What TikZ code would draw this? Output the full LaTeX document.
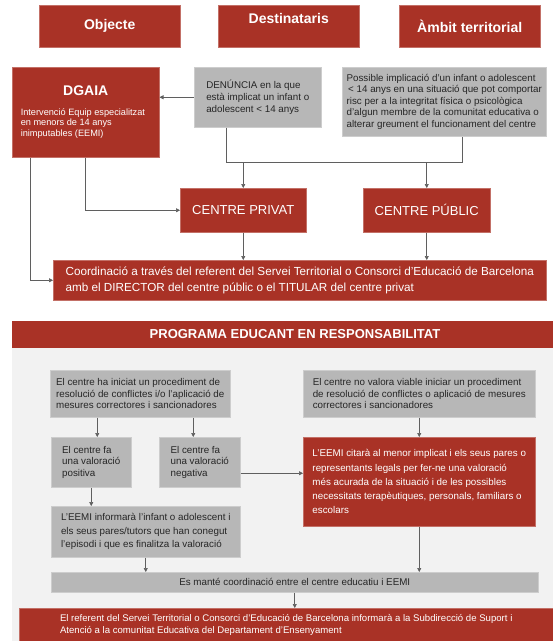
\documentclass[tikz,border=0pt]{standalone}
\usepackage{fontspec}
\setmainfont{Liberation Sans}
\usetikzlibrary{arrows.meta}

\definecolor{eduRed}{RGB}{169,50,38}
\definecolor{boxGrey}{RGB}{183,183,183}
\definecolor{panelGrey}{RGB}{242,242,242}
\definecolor{lineGrey}{RGB}{95,95,95}

\begin{document}
\begin{tikzpicture}[x=1pt, y=-1pt,
    redbox/.style={fill=eduRed, draw=eduRed!70!white, line width=0.5pt, text=white, anchor=north west, inner sep=0pt},
    greybox/.style={fill=boxGrey, draw=boxGrey!70!white, line width=0.5pt, text=black!85, anchor=north west, inner sep=0pt, align=left, font=\fontsize{9.8}{11.6}\selectfont},
    headbox/.style={redbox, minimum width=141pt, minimum height=42pt, font=\fontsize{14}{16}\selectfont\bfseries},
    link/.style={draw=lineGrey, line width=0.7pt},
    arrow/.style={link, -{Triangle[length=4pt, width=4pt]}}]
    \useasboundingbox (0,0) rectangle (553,641);

    % Headers
    \node[headbox] (objecte) at (39,5) {Objecte};
    \node[headbox, text depth=16pt] (destinataris) at (218,5) {Destinataris};
    \node[headbox] (ambit) at (399,5) {Àmbit territorial};

    % Second row
    \node[redbox, minimum width=147pt, minimum height=90pt, align=left, font=\fontsize{9.2}{10.6}\selectfont] (dgaia) at (12,67)
        {\makebox[130pt]{\fontsize{14}{16}\selectfont\bfseries DGAIA}\\[9pt]
         Intervenció Equip especialitzat\\ en menors de 14 anys\\ inimputables (EEMI)};
    \node[greybox, minimum width=127pt, minimum height=60pt] (denuncia) at (194,67)
        {DENÚNCIA en la que\\ està implicat un infant o\\ adolescent < 14 anys};
    \node[greybox, minimum width=204pt, minimum height=69pt] (possible) at (342,67)
        {Possible implicació d'un infant o adolescent\\ \,< 14 anys en una situació que pot comportar\\
         risc per a la integritat física o psicològica\\ d'algun membre de la comunitat educativa o\\
         alterar greument el funcionament del centre};

    % Centres
    \node[redbox, minimum width=126pt, minimum height=44pt, font=\fontsize{13}{15}\selectfont] (privat) at (180,188) {CENTRE PRIVAT};
    \node[redbox, minimum width=127pt, minimum height=44pt, font=\fontsize{13}{15}\selectfont] (public) at (363,188) {CENTRE PÚBLIC};
    \node[redbox, minimum width=493pt, minimum height=40pt, align=left, font=\fontsize{11.7}{15.5}\selectfont] (coord) at (53,260)
        {Coordinació a través del referent del Servei Territorial o Consorci d'Educació de Barcelona\\
         amb el DIRECTOR del centre públic o el TITULAR del centre privat};

    % Connections (top)
    \coordinate (split) at (0,162);
    \draw[arrow] (denuncia.west) -- (denuncia.west -| dgaia.east);
    \draw[link] ([xshift=-31.5pt]denuncia.south) |- ([xshift=18pt]possible.south |- split) -- ([xshift=18pt]possible.south);
    \draw[arrow] (privat.north |- split) -- (privat.north);
    \draw[arrow] (public.north |- split) -- (public.north);
    \draw[arrow] (dgaia.south) |- (privat.west);
    \draw[arrow] ([xshift=-55.5pt]dgaia.south) |- (coord.west);
    \draw[arrow] (privat.south) -- (privat.south |- coord.north);
    \draw[arrow] (public.south) -- (public.south |- coord.north);

    % Programa panel
    \fill[panelGrey] (12,321) rectangle (553,641);
    \fill[eduRed] (12,321) rectangle (553,348);
    \node[text=white, font=\fontsize{13}{15}\selectfont\bfseries] (programa) at (295,334.5) {PROGRAMA EDUCANT EN RESPONSABILITAT};

    \node[greybox, minimum width=180pt, minimum height=47pt] (iniciat) at (50,370)
        {El centre ha iniciat un procediment de\\ resolució de conflictes i/o l'aplicació de\\ mesures correctores i sancionadores};
    \node[greybox, minimum width=232pt, minimum height=47pt] (noviable) at (303,370)
        {El centre no valora viable iniciar un procediment\\ de resolució de conflictes o aplicació de mesures\\ correctores i sancionadores};
    \node[greybox, minimum width=80pt, minimum height=50pt] (positiva) at (51,437)
        {El centre fa\\ una valoració\\ positiva};
    \node[greybox, minimum width=81pt, minimum height=50pt] (negativa) at (159,437)
        {El centre fa\\ una valoració\\ negativa};
    \node[redbox, minimum width=232pt, minimum height=89pt, align=left, font=\fontsize{9.8}{14.2}\selectfont] (citara) at (303,437)
        {L'EEMI citarà al menor implicat i els seus pares o\\ representants legals per fer-ne una valoració\\
         més acurada de la situació i de les possibles\\ necessitats terapèutiques, personals, familiars o\\ escolars};
    \node[greybox, minimum width=189pt, minimum height=51pt, font=\fontsize{9.8}{13.6}\selectfont] (informara) at (51,506)
        {L'EEMI informarà l'infant o adolescent i\\ els seus pares/tutors que han conegut\\ l'episodi i que es finalitza la valoració};
    \node[greybox, minimum width=487pt, minimum height=20pt, align=center] (mante) at (51,572)
        {Es manté coordinació entre el centre educatiu i EEMI};
    \node[redbox, minimum width=534pt, minimum height=33pt, align=left, font=\fontsize{9.6}{11.5}\selectfont] (referent) at (19,608)
        {El referent del Servei Territorial o Consorci d'Educació de Barcelona informarà a la Subdirecció de Suport i\\
         Atenció a la comunitat Educativa del Departament d'Ensenyament};

    % Connections (panel)
    \draw[arrow] ([xshift=6pt]positiva.north |- iniciat.south) -- ([xshift=6pt]positiva.north);
    \draw[arrow] ([xshift=-6.5pt]negativa.north |- iniciat.south) -- ([xshift=-6.5pt]negativa.north);
    \draw[arrow] (noviable.south) -- (citara.north);
    \draw[arrow] ([yshift=-11pt]negativa.east) -- ([yshift=-11pt]negativa.east -| citara.west);
    \draw[arrow] (positiva.south) -- (positiva.south |- informara.north);
    \draw[arrow] (informara.south) -- (informara.south |- mante.north);
    \draw[arrow] (citara.south) -- (citara.south |- mante.north);
    \draw[arrow] (mante.south) -- (mante.south |- referent.north);
\end{tikzpicture}
\end{document}
